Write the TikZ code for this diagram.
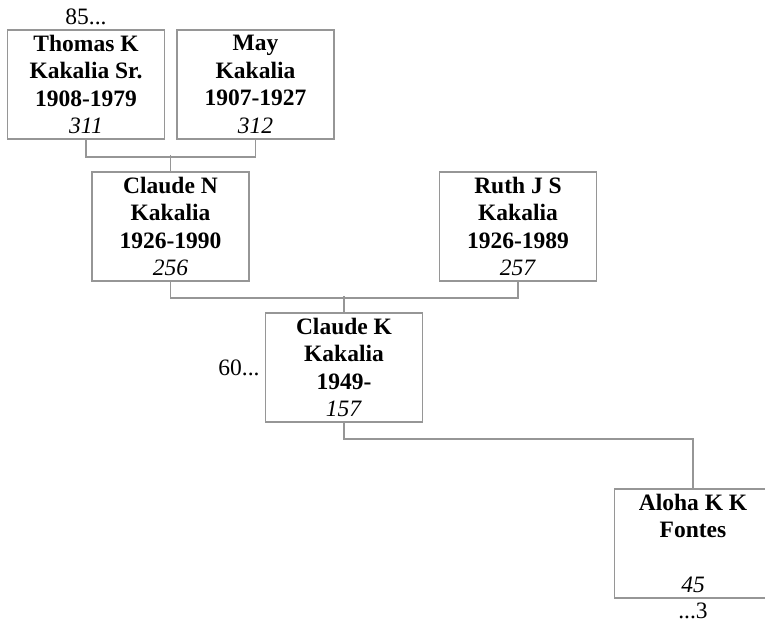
\documentclass[tikz,border=0pt]{standalone}
\usepackage{fontspec}
\setmainfont{Liberation Serif}
\usepackage{tikz}
\usetikzlibrary{positioning}

\definecolor{boxgray}{RGB}{150,150,150}

\tikzset{
  person/.style={draw=boxgray, line width=1.5pt, minimum width=157pt, minimum height=109pt,
    align=center, inner sep=0pt, font=\fontsize{23.5}{27.5}\selectfont},
  link/.style={draw=boxgray, line width=1.5pt},
  more/.style={inner sep=0pt, font=\fontsize{23.5}{27.5}\selectfont}
}

\begin{document}
\begin{tikzpicture}[x=1pt,y=-1pt]
 \useasboundingbox (0,0) rectangle (765,626);
 \node[person] (thomas) at (86,84.5) {\textbf{Thomas K}\\\textbf{Kakalia Sr.}\\\textbf{1908-1979}\\\textit{311}};
 \node[person] (may) at (255.5,84.5) {\textbf{May}\\\textbf{Kakalia}\\\textbf{1907-1927}\\\textit{312}};
 \node[person] (claudeN) at (170.5,226.5) {\textbf{Claude N}\\\textbf{Kakalia}\\\textbf{1926-1990}\\\textit{256}};
 \node[person] (ruth) at (518,226.5) {\textbf{Ruth J S}\\\textbf{Kakalia}\\\textbf{1926-1989}\\\textit{257}};
 \node[person] (claudeK) at (344,367.5) {\textbf{Claude K}\\\textbf{Kakalia}\\\textbf{1949-}\\\textit{157}};
 \node[person] (aloha) at (693,543.5) {\textbf{Aloha K K}\\\textbf{Fontes}\\{}\\\textit{45}};

 \node[more, above=4pt of thomas] (up85) {85...};
 \node[more, left=5pt of claudeK] (up60) {60...};
 \node[more, below=4pt of aloha] (down3) {...3};

 \draw[link] (thomas.south) -- ++(0,17) -| (may.south);
 \draw[link] (claudeN.north) -- ++(0,-16);
 \draw[link] (claudeN.south) -- ++(0,16) -| (ruth.south);
 \draw[link] (claudeK.north) -- ++(0,-16);
 \draw[link] (claudeK.south) -- ++(0,16) -| (aloha.north);
\end{tikzpicture}
\end{document}
